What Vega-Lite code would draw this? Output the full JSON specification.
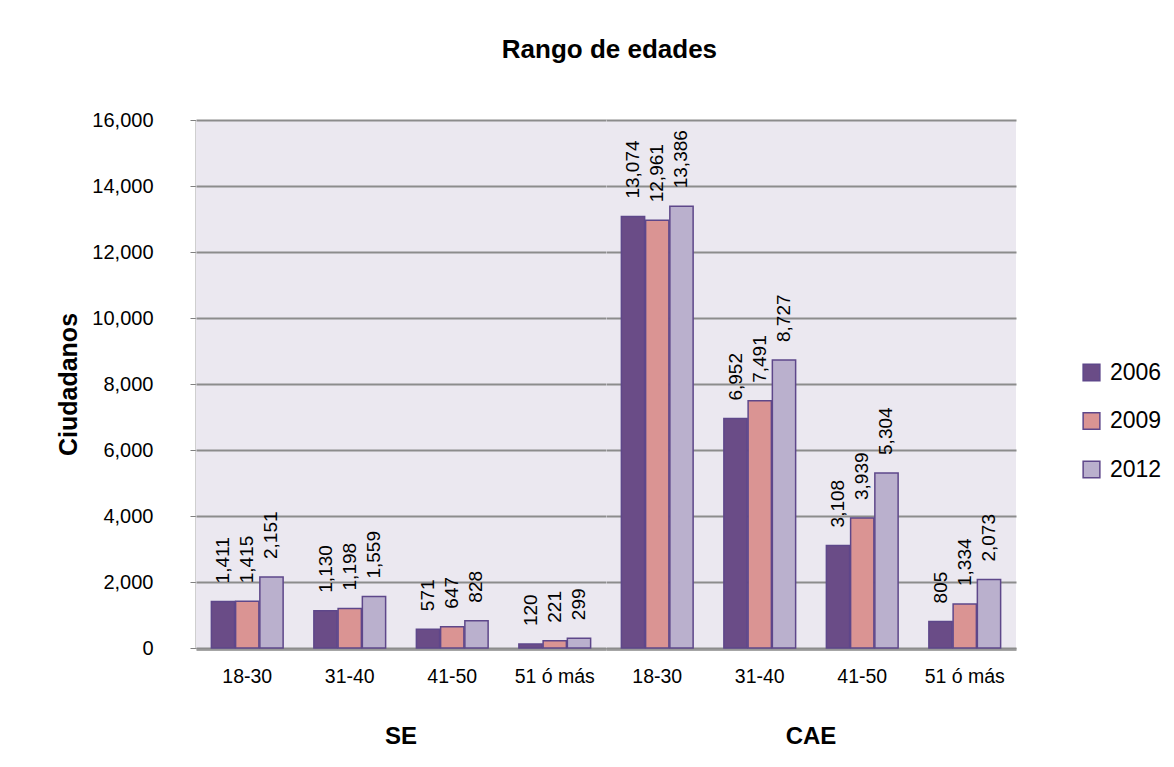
{
  "$schema": "https://vega.github.io/schema/vega-lite/v6.json",
  "background": "white",
  "padding": {"left": 56, "top": 37, "right": 10, "bottom": 10},
  "title": {"text": "Rango de edades", "font": "Liberation Sans", "fontSize": 26, "fontWeight": "bold", "color": "black", "anchor": "middle", "offset": 47},
  "data": {"values": [
    {"grupo": "SE", "edad": "18-30", "anio": "2006", "valor": 1411},
    {"grupo": "SE", "edad": "18-30", "anio": "2009", "valor": 1415},
    {"grupo": "SE", "edad": "18-30", "anio": "2012", "valor": 2151},
    {"grupo": "SE", "edad": "31-40", "anio": "2006", "valor": 1130},
    {"grupo": "SE", "edad": "31-40", "anio": "2009", "valor": 1198},
    {"grupo": "SE", "edad": "31-40", "anio": "2012", "valor": 1559},
    {"grupo": "SE", "edad": "41-50", "anio": "2006", "valor": 571},
    {"grupo": "SE", "edad": "41-50", "anio": "2009", "valor": 647},
    {"grupo": "SE", "edad": "41-50", "anio": "2012", "valor": 828},
    {"grupo": "SE", "edad": "51 ó más", "anio": "2006", "valor": 120},
    {"grupo": "SE", "edad": "51 ó más", "anio": "2009", "valor": 221},
    {"grupo": "SE", "edad": "51 ó más", "anio": "2012", "valor": 299},
    {"grupo": "CAE", "edad": "18-30", "anio": "2006", "valor": 13074},
    {"grupo": "CAE", "edad": "18-30", "anio": "2009", "valor": 12961},
    {"grupo": "CAE", "edad": "18-30", "anio": "2012", "valor": 13386},
    {"grupo": "CAE", "edad": "31-40", "anio": "2006", "valor": 6952},
    {"grupo": "CAE", "edad": "31-40", "anio": "2009", "valor": 7491},
    {"grupo": "CAE", "edad": "31-40", "anio": "2012", "valor": 8727},
    {"grupo": "CAE", "edad": "41-50", "anio": "2006", "valor": 3108},
    {"grupo": "CAE", "edad": "41-50", "anio": "2009", "valor": 3939},
    {"grupo": "CAE", "edad": "41-50", "anio": "2012", "valor": 5304},
    {"grupo": "CAE", "edad": "51 ó más", "anio": "2006", "valor": 805},
    {"grupo": "CAE", "edad": "51 ó más", "anio": "2009", "valor": 1334},
    {"grupo": "CAE", "edad": "51 ó más", "anio": "2012", "valor": 2073}
  ]},
  "facet": {
    "column": {
      "field": "grupo", "type": "nominal", "sort": ["SE", "CAE"],
      "header": {"orient": "bottom", "title": null, "labelFont": "Liberation Sans", "labelFontSize": 24, "labelFontWeight": "bold", "labelColor": "black", "labelPadding": 39}
    }
  },
  "spacing": 0,
  "spec": {
    "width": 410,
    "height": 528,
    "encoding": {
      "x": {"field": "edad", "type": "nominal", "sort": ["18-30", "31-40", "41-50", "51 ó más"],
        "scale": {"paddingInner": 0.3, "paddingOuter": 0.15},
        "axis": {"title": null, "labelAngle": 0, "labelFont": "Liberation Sans", "labelFontSize": 19.5, "labelColor": "black", "labelPadding": 18, "ticks": false, "domainColor": "#A6A6A6", "domainWidth": 3}},
      "xOffset": {"field": "anio", "type": "nominal", "scale": {"paddingInner": 0.04}},
      "y": {"field": "valor", "type": "quantitative", "scale": {"domain": [0, 16000]},
        "axis": {"title": "Ciudadanos", "values": [0, 2000, 4000, 6000, 8000, 10000, 12000, 14000, 16000], "labelExpr": "format(datum.value, ',')", "titleFont": "Liberation Sans", "titleFontSize": 25, "titleFontWeight": "bold", "titleColor": "black", "titlePadding": 10, "labelFont": "Liberation Sans", "labelFontSize": 20, "labelColor": "black", "labelPadding": 37, "tickColor": "#808080", "tickSize": 6, "domainColor": "#A0A0A0", "domainWidth": 2, "gridColor": "#8C8C8C", "gridWidth": 2}}
    },
    "layer": [
      {"mark": {"type": "bar", "stroke": "#5E478A", "strokeWidth": 1.5},
       "encoding": {"color": {"field": "anio", "type": "nominal",
         "scale": {"domain": ["2006", "2009", "2012"], "range": ["#6A4C87", "#DA9493", "#BAB0CD"]},
         "legend": {"title": null, "orient": "none", "legendX": 884, "legendY": 241, "symbolType": "square", "symbolSize": 280, "symbolStrokeColor": "#5E478A", "symbolStrokeWidth": 1.5, "symbolOpacity": 1, "labelFont": "Liberation Sans", "labelFontSize": 23, "labelColor": "black", "rowPadding": 24.5, "labelOffset": 7}}}},
      {"mark": {"type": "text", "angle": 270, "align": "left", "baseline": "middle", "dx": 18, "font": "Liberation Sans", "fontSize": 19, "color": "black"},
       "encoding": {"text": {"field": "valor", "type": "quantitative", "format": ","}}}
    ]
  },
  "config": {"view": {"fill": "#EBE8F0", "stroke": null}}
}
